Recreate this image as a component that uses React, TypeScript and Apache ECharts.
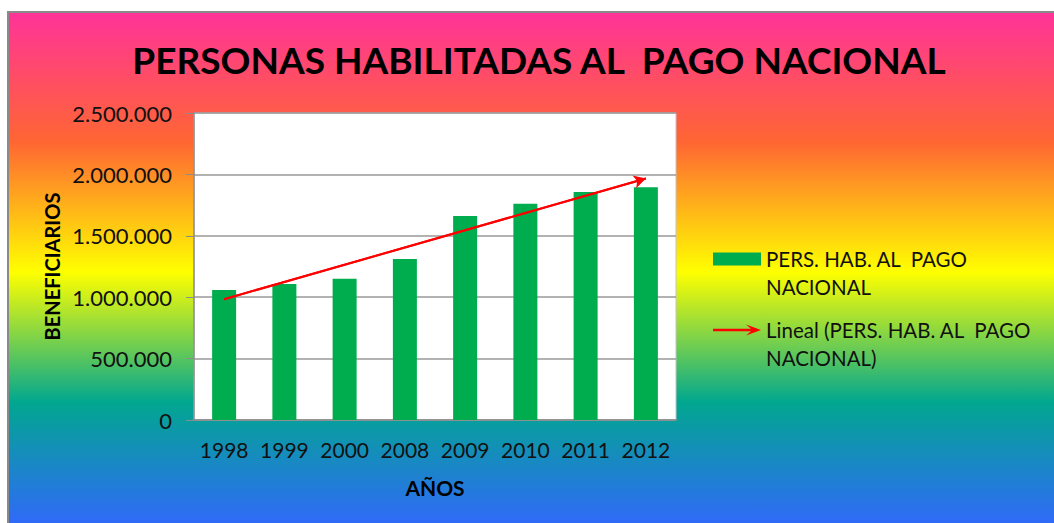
import React, { useEffect, useRef } from "react";
import * as echarts from "echarts";

const years = ["1998", "1999", "2000", "2008", "2009", "2010", "2011", "2012"];
const beneficiarios = [1058000, 1107000, 1150000, 1311000, 1661000, 1762000, 1857000, 1895000];
const yTicks = [0, 500000, 1000000, 1500000, 2000000, 2500000];
const barName = "PERS. HAB. AL  PAGO NACIONAL";
const trendName = "Lineal (PERS. HAB. AL  PAGO NACIONAL)";
const legendLines: Record<string, string[]> = {
  [barName]: ["PERS. HAB. AL  PAGO", "NACIONAL"],
  [trendName]: ["Lineal (PERS. HAB. AL  PAGO", "NACIONAL)"],
};
const titleText = "PERSONAS HABILITADAS AL  PAGO NACIONAL";
const xName = "AÑOS";
const yName = "BENEFICIARIOS";

// linear least-squares trend (Excel "Lineal") computed from the data
function linearTrend(vals: number[]): number[] {
  const n = vals.length;
  const xs = vals.map((_, i) => i);
  const mx = xs.reduce((a, b) => a + b, 0) / n;
  const my = vals.reduce((a, b) => a + b, 0) / n;
  let sxy = 0, sxx = 0;
  for (let i = 0; i < n; i++) {
    sxy += (xs[i] - mx) * (vals[i] - my);
    sxx += (xs[i] - mx) * (xs[i] - mx);
  }
  const slope = sxy / sxx;
  return xs.map((x) => my + slope * (x - mx));
}
const trend = linearTrend(beneficiarios);

const fmt = (v: number) => String(Math.round(v)).replace(/\B(?=(\d{3})+(?!\d))/g, ".");

const FONT = "Lato";

export default function App() {
  const ref = useRef<HTMLDivElement>(null);
  useEffect(() => {
    if (!ref.current) return;
    const chart = echarts.init(ref.current, undefined, { renderer: "svg" });
    const option: any = {
      animation: false,
      graphic: [
        {
          type: "rect",
          z: -100,
          silent: true,
          shape: { x: 8, y: 12, width: 1060, height: 520 },
          style: {
            fill: new echarts.graphic.LinearGradient(0, 0, 0, 1, [
              { offset: 0, color: "#FF3399" },
              { offset: 0.25, color: "#FF6633" },
              { offset: 0.5, color: "#FFFF00" },
              { offset: 0.75, color: "#01A78F" },
              { offset: 1, color: "#3366FF" },
            ]),
            stroke: "#8a8a8a",
            lineWidth: 2,
          },
        },
      ],
      title: {
        text: titleText,
        left: 534,
        top: 36,
        textAlign: "center",
        textStyle: { fontFamily: FONT, fontWeight: "bold", fontSize: 37, color: "#000" },
      },
      legend: {
        orient: "vertical",
        left: 713,
        top: 217,
        padding: 0,
        itemWidth: 48,
        itemHeight: 13,
        itemGap: -13,
        data: [
          { name: barName, icon: "rect" },
          { name: trendName, icon: "path://M0,5.3L38,5.3L33,1L48,6.5L33,12L38,7.7L0,7.7Z" },
        ],
        formatter: (name: string) => {
          const l = legendLines[name];
          return l ? " \n" + l[0] + "\n" + l[1] : name;
        },
        textStyle: {
          fontFamily: FONT,
          fontSize: 20.5,
          lineHeight: 28,
          color: "#111",
        },
      },
      grid: {
        left: 194,
        top: 113,
        width: 482,
        height: 307,
        show: true,
        backgroundColor: "#ffffff",
        borderColor: "#c4c4c4",
        borderWidth: 1,
      },
      xAxis: {
        type: "category",
        data: years,
        name: xName,
        nameLocation: "middle",
        nameGap: 57,
        nameTextStyle: { fontFamily: FONT, fontWeight: "bold", fontSize: 21, color: "#000" },
        axisLine: { show: true, lineStyle: { color: "#8c8c8c", width: 1.5 } },
        axisTick: { show: false },
        axisLabel: { interval: 0, fontFamily: FONT, fontSize: 21, color: "#111", margin: 19 },
      },
      yAxis: {
        type: "value",
        min: yTicks[0],
        max: yTicks[yTicks.length - 1],
        interval: yTicks[1] - yTicks[0],
        name: yName,
        nameLocation: "middle",
        nameGap: 132,
        nameTextStyle: { fontFamily: FONT, fontWeight: "bold", fontSize: 20, color: "#000" },
        axisLine: { show: true, lineStyle: { color: "#8c8c8c", width: 1.5 } },
        axisTick: { show: true, length: 8, lineStyle: { color: "#8c8c8c" } },
        axisLabel: { fontFamily: FONT, fontSize: 22, color: "#111", margin: 22, formatter: fmt },
        splitLine: { show: true, lineStyle: { color: "#999999", width: 1.5 } },
      },
      series: [
        {
          name: barName,
          type: "bar",
          data: beneficiarios,
          barWidth: 24,
          itemStyle: { color: "#00AD4E" },
        },
        {
          name: trendName,
          type: "line",
          data: trend,
          showSymbol: false,
          symbol: "none",
          itemStyle: { color: "#FF0000" },
          lineStyle: { color: "#FF0000", width: 2 },
          z: 5,
          markLine: {
            silent: true,
            symbol: ["none", "arrow"],
            symbolSize: [10, 12],
            label: { show: false },
            lineStyle: { color: "#FF0000", width: 2, type: "solid" },
            data: [
              [
                { coord: [0, trend[0]] },
                { coord: [trend.length - 1, trend[trend.length - 1]] },
              ],
            ],
          },
        },
      ],
    };
    chart.setOption(option);
    return () => chart.dispose();
  }, []);
  return (
    <div
      ref={ref}
      style={{ position: "absolute", left: 0, top: 0, width: 1054, height: 523, background: "#fff" }}
    />
  );
}
